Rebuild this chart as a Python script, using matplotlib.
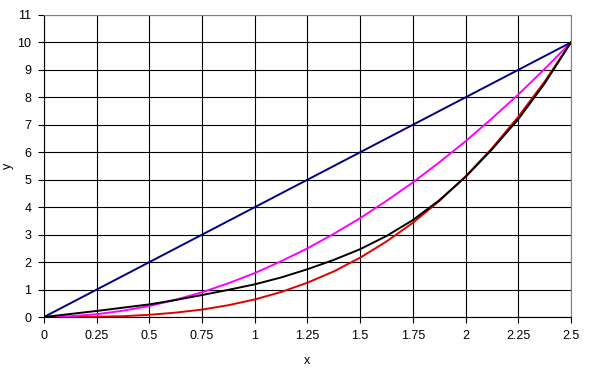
import numpy as np
import matplotlib
matplotlib.use('Agg')
import matplotlib.pyplot as plt

plt.rcParams['font.family'] = ['Liberation Sans', 'DejaVu Sans']

# x values for the curves (every 0.125)
x = [0, 0.125, 0.25, 0.375, 0.5, 0.625, 0.75, 0.875, 1.0, 1.125, 1.25,
     1.375, 1.5, 1.625, 1.75, 1.875, 2.0, 2.125, 2.25, 2.375, 2.5]
y_blue = [0, 0.5, 1.0, 1.5, 2.0, 2.5, 3.0, 3.5, 4.0, 4.5, 5.0,
          5.5, 6.0, 6.5, 7.0, 7.5, 8.0, 8.5, 9.0, 9.5, 10.0]
y_magenta = [0, 0.03, 0.1, 0.23, 0.4, 0.63, 0.9, 1.23, 1.6, 2.03, 2.5,
             3.03, 3.6, 4.23, 4.9, 5.63, 6.4, 7.23, 8.1, 9.03, 10.0]
y_black = [0, 0.11, 0.22, 0.34, 0.46, 0.62, 0.8, 0.99, 1.19, 1.44, 1.74,
           2.08, 2.47, 2.95, 3.53, 4.25, 5.1, 6.1, 7.2, 8.5, 10.0]
y_red = [0, 0.0, 0.01, 0.03, 0.08, 0.16, 0.27, 0.43, 0.64, 0.91, 1.25,
         1.66, 2.16, 2.75, 3.43, 4.22, 5.12, 6.14, 7.29, 8.57, 10.0]

xticks = [0, 0.25, 0.5, 0.75, 1, 1.25, 1.5, 1.75, 2, 2.25, 2.5]
xticklabels = ['0', '0.25', '0.5', '0.75', '1', '1.25', '1.5', '1.75', '2', '2.25', '2.5']
yticks = list(range(0, 12))

fig = plt.figure(figsize=(5.91, 3.74), dpi=100)
ax = fig.add_axes([0.0745, 0.1524, 0.8915, 0.8076])

ax.plot(x, y_red, color='#e00000', lw=1.4, zorder=3)
ax.plot(x, y_black, color='black', lw=1.4, zorder=4)
ax.plot(x, y_magenta, color='#ff00ff', lw=1.4, zorder=3)
ax.plot(x, y_blue, color='#000080', lw=1.4, zorder=3)

ax.set_xlim(0, 2.5)
ax.set_ylim(0, 11)
ax.set_xticks(xticks)
ax.set_xticklabels(xticklabels)
ax.set_yticks(yticks)
ax.grid(True, color='black', lw=0.8)
ax.tick_params(direction='out', length=4, width=0.8, labelsize=9, pad=5)

for s in ['top', 'right']:
    ax.spines[s].set_color('#808080')
for s in ['left', 'bottom']:
    ax.spines[s].set_color('black')

ax.set_xlabel('x', fontsize=9)
ax.set_ylabel('y', fontsize=9)
ax.xaxis.set_label_coords(0.5, -0.125)
ax.yaxis.set_label_coords(-0.058, 0.5)

fig.savefig('out.png', dpi=100)
